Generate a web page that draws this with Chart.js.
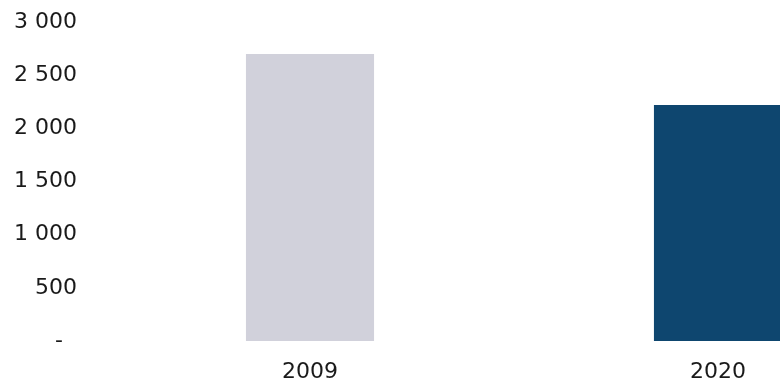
<html>
  <head>
    <title>2009 vs 2020</title>
    <script src = "https://cdn.jsdelivr.net/npm/chart.js@4/dist/chart.umd.min.js"></script>
    <style>
      body { margin: 0; overflow: hidden; background: #ffffff; }
    </style>
  </head>

  <body>
    <canvas id = "bar-chart" width = "922" height = "383"></canvas>
  </body>

  <script>
    // values
    var years = ["2009", "2020"];
    var amounts = [2700, 2220];
    var barColors = ["#d1d1db", "#0e466f"];
    var yTicks = [0, 500, 1000, 1500, 2000, 2500, 3000];

    function fmt(v) {
      if (v == 0) return "-  ";
      return String(v).replace(/\B(?=(\d{3})+(?!\d))/g, " ");
    }

    new Chart(document.getElementById("bar-chart"), {
      type: 'bar',
      data: {
        labels: years,
        datasets: [{
          data: amounts,
          backgroundColor: barColors,
          borderWidth: 0,
          categoryPercentage: 1,
          barPercentage: 0.314
        }]
      },
      options: {
        responsive: false,
        animation: false,
        layout: { padding: { top: 22, right: 0, left: 0, bottom: 0 } },
        plugins: { legend: { display: false }, tooltip: { enabled: false } },
        scales: {
          x: {
            grid: { display: false, drawTicks: false },
            border: { display: false },
            ticks: {
              color: "#1a1a1a",
              padding: 18,
              font: { family: "'DejaVu Sans', Verdana, sans-serif", size: 22 }
            },
            afterFit: function(s) { s.height = 42; s.paddingLeft = 0; s.paddingRight = 0; }
          },
          y: {
            min: 0,
            max: 3000,
            afterBuildTicks: function(s) {
              s.ticks = yTicks.map(function(v) { return { value: v }; });
            },
            grid: { display: false, drawTicks: false },
            border: { display: false },
            ticks: {
              color: "#1a1a1a",
              padding: 29,
              font: { family: "'DejaVu Sans', Verdana, sans-serif", size: 22 },
              callback: function(v) { return fmt(v); }
            },
            afterFit: function(s) { s.width = 106; s.paddingTop = 0; s.paddingBottom = 0; }
          }
        }
      }
    });
  </script>

</html>
